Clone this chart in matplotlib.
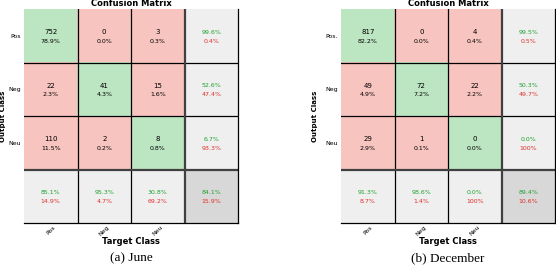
import matplotlib.pyplot as plt
import numpy as np

classes = ["Pos", "Neg", "Neu"]
june_counts = [[752, 0, 3],
               [22, 41, 15],
               [110, 2, 8]]
dec_counts = [[817, 0, 4],
              [49, 72, 22],
              [29, 1, 0]]
dec_ylabels = ["Pos.", "Neg", "Neu"]

green = (0.74, 0.90, 0.76)
red = (0.97, 0.77, 0.75)
grey = (0.94, 0.94, 0.94)
dgrey = (0.85, 0.85, 0.85)
gtxt = "#1fa02c"
rtxt = "#e0302c"


def pct(v):
    s = "%.1f%%" % v
    if s == "100.0%":
        s = "100%"
    return s


def draw_cm(ax, counts, ylabels, caption, ylab_x):
    cm = np.array(counts, dtype=float)
    n = cm.shape[0]
    total = cm.sum()
    img = np.ones((n + 1, n + 1, 3))
    for i in range(n + 1):
        for j in range(n + 1):
            if i == n and j == n:
                img[i, j] = dgrey
            elif i == n or j == n:
                img[i, j] = grey
            elif i == j:
                img[i, j] = green
            else:
                img[i, j] = red
    ax.imshow(img, extent=(0, n + 1, n + 1, 0), aspect="auto")

    for i in range(n):
        for j in range(n):
            ax.text(j + 0.5, i + 0.43, "%d" % cm[i, j], ha="center", va="center", fontsize=5)
            ax.text(j + 0.5, i + 0.6, pct(100 * cm[i, j] / total), ha="center", va="center", fontsize=4.5)
    # row stats (precision)
    for i in range(n):
        s = cm[i].sum()
        a = 100 * cm[i, i] / s if s else 0
        ax.text(n + 0.5, i + 0.43, pct(a), ha="center", va="center", fontsize=4.5, color=gtxt)
        ax.text(n + 0.5, i + 0.6, pct(100 - a), ha="center", va="center", fontsize=4.5, color=rtxt)
    # column stats (recall)
    for j in range(n):
        s = cm[:, j].sum()
        a = 100 * cm[j, j] / s if s else 0
        ax.text(j + 0.5, n + 0.43, pct(a), ha="center", va="center", fontsize=4.5, color=gtxt)
        ax.text(j + 0.5, n + 0.6, pct(100 - a), ha="center", va="center", fontsize=4.5, color=rtxt)
    a = 100 * np.trace(cm) / total
    ax.text(n + 0.5, n + 0.43, pct(a), ha="center", va="center", fontsize=4.5, color=gtxt)
    ax.text(n + 0.5, n + 0.6, pct(100 - a), ha="center", va="center", fontsize=4.5, color=rtxt)

    for k in range(1, n):
        ax.axhline(k, color="black", lw=0.9)
        ax.axvline(k, color="black", lw=0.9)
    ax.axhline(n, color="#404040", lw=1.6)
    ax.axvline(n, color="#404040", lw=1.6)
    ax.set_xlim(0, n + 1)
    ax.set_ylim(n + 1, 0)
    for side in ["top", "left"]:
        ax.spines[side].set_visible(False)
    for side in ["bottom", "right"]:
        ax.spines[side].set_linewidth(0.9)

    ax.set_xticks(np.arange(n) + 0.5)
    ax.set_xticklabels(classes, rotation=45, ha="center", fontsize=4.5)
    ax.set_yticks(np.arange(n) + 0.5)
    ax.set_yticklabels(ylabels, fontsize=4.5)
    ax.tick_params(axis="x", length=0, pad=1)
    ax.tick_params(axis="y", length=0, pad=2)
    ax.set_title("Confusion Matrix", fontsize=6, fontweight="bold", pad=2)
    ax.set_xlabel("Target Class", fontsize=6, fontweight="bold", labelpad=0)
    ax.text(ylab_x, 0.5, "Output Class", transform=ax.transAxes, rotation=90,
            ha="center", va="center", fontsize=5, fontweight="bold")
    ax.text(0.5, -0.135, caption, transform=ax.transAxes, ha="center", va="top",
            fontsize=9.5, family="Liberation Serif")


fig = plt.figure(figsize=(5.56, 2.68), dpi=100)
ax1 = fig.add_axes([24 / 556, 45 / 268, 214 / 556, 214 / 268])
ax2 = fig.add_axes([341 / 556, 45 / 268, 214 / 556, 214 / 268])
draw_cm(ax1, june_counts, classes, "(a) June", (3.5 - 24) / 214)
draw_cm(ax2, dec_counts, dec_ylabels, "(b) December", (315 - 341) / 214)
fig.savefig("out.png", dpi=100)
